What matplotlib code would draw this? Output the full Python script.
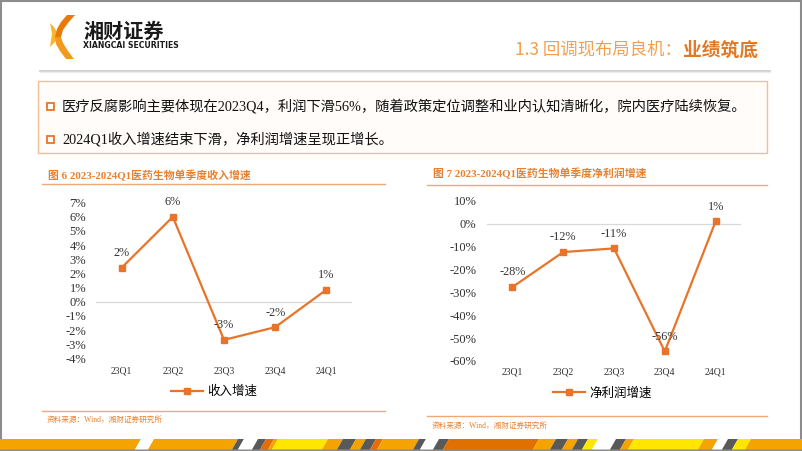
import numpy as np
import matplotlib.pyplot as plt
from matplotlib.patches import Rectangle, Polygon

W, H = 802, 451

# data
quarters = ['23Q1', '23Q2', '23Q3', '23Q4', '24Q1']
revenue_growth = [2.4, 6.0, -2.7, -1.8, 0.85]
revenue_labels = ['2%', '6%', '-3%', '-2%', '1%']
profit_growth = [-27.7, -12.4, -10.8, -55.8, 1.0]
profit_labels = ['-28%', '-12%', '-11%', '-56%', '1%']
revenue_ticks = list(range(-4, 8))
profit_ticks = list(range(-60, 11, 10))

bullets = ['医疗反腐影响主要体现在2023Q4，利润下滑56%，随着政策定位调整和业内认知清晰化，院内医疗陆续恢复。',
           '2024Q1收入增速结束下滑，净利润增速呈现正增长。']

SERIF = ['Liberation Serif', 'Noto Sans CJK SC']
CJK = ['Noto Sans CJK SC', 'DejaVu Sans']
LINE = '#E8742A'
ORANGE = '#E8802F'

fig = plt.figure(figsize=(W / 100, H / 100), dpi=100)
bg = fig.add_axes([0, 0, 1, 1])
bg.set_xlim(0, W)
bg.set_ylim(H, 0)
bg.axis('off')

# frame
bg.add_patch(Rectangle((0.5, 0.5), W - 2, H - 1.5, fill=False, ec='#8C8C8C', lw=1.5))

# logo
bg.add_patch(Polygon([(50, 23), (54, 27), (57, 32), (58, 37), (55, 42), (50, 47), (51, 40), (52, 34), (51, 28)],
                     color='#F8B62D', lw=0))
bg.add_patch(Polygon([(67, 15), (75, 15), (68, 23), (63, 30), (61, 37), (55, 37), (57, 29), (61, 22)],
                     color='#E97A0A', lw=0))
bg.add_patch(Polygon([(55, 37), (61, 37), (63, 43), (68, 51), (74, 59), (66, 59), (60, 51), (56, 44)],
                     color='#F39A1E', lw=0))
bg.text(83, 31, '湘财证券', fontsize=14.5, fontweight='bold', family=CJK, va='center', ha='left', color='#1A1A1A')
bg.text(83, 46, 'XIANGCAI SECURITIES', fontsize=5.6, fontweight='bold', family=['Liberation Sans Narrow', 'DejaVu Sans'],
        va='center', ha='left', color='#1A1A1A')

# header title
t_bold = bg.text(758, 50, '业绩筑底', fontsize=13.5, fontweight='bold', family=CJK, ha='right', va='center', color='#E07A28')
fig.canvas.draw()
bb = t_bold.get_window_extent()
bg.text(bb.x0 - 1, 50, '1.3 回调现布局良机：', fontsize=12.5, family=CJK, ha='right', va='center', color='#F0A050')
bg.plot([40, 770], [70.5, 70.5], color='#C8C8C8', lw=1.2)
bg.plot([40, 770], [72, 72], color='#EDEDED', lw=1)

# bullet box
bg.add_patch(Rectangle((38, 81), 729, 72, fc='#FFFCF9', ec='#F2BE98', lw=1))
for i, txt in enumerate(bullets):
    y = 106 + i * 33
    bg.add_patch(Rectangle((46.5, y - 3.5), 7, 7, fill=False, ec='#E8742A', lw=1.3))
    bg.text(62, y, txt, fontsize=10.3, family=SERIF, va='center', ha='left', color='#111111')

# chart titles and rules
bg.text(48, 176, '图 6 2023-2024Q1医药生物单季度收入增速', fontsize=7.8, fontweight='bold', family=SERIF,
        va='center', color=ORANGE)
bg.plot([42, 385], [183.5, 183.5], color='#F0A878', lw=1)
bg.text(433, 173.5, '图 7 2023-2024Q1医药生物单季度净利润增速', fontsize=7.8, fontweight='bold', family=SERIF,
        va='center', color=ORANGE)
bg.plot([427, 767], [184.5, 184.5], color='#F0A878', lw=1)

bg.plot([42, 385], [410.5, 410.5], color='#F0A878', lw=1)
bg.plot([427, 767], [416, 416], color='#F0A878', lw=1)
bg.text(47, 419.5, '资料来源：Wind，湘财证券研究所', fontsize=5.5, family=SERIF, va='center', color=ORANGE)
bg.text(432, 425.5, '资料来源：Wind，湘财证券研究所', fontsize=5.5, family=SERIF, va='center', color=ORANGE)

# bottom stripe
stripe = [(0, 135, '#F5A300'), (135, 148, 'white'), (148, 232, '#F5A300'), (232, 238, '#595959'),
          (238, 252, 'white'), (252, 260, '#595959'), (260, 268, '#E46C0A'), (268, 272, '#F5A300'),
          (272, 322, '#FFE600'), (322, 337, '#F5A300'), (337, 350, '#595959'), (350, 360, '#F5A300'),
          (360, 370, '#595959'), (370, 377, '#E46C0A'), (377, 413, '#F5A300'), (413, 420, '#595959'),
          (420, 433, 'white'), (433, 443, '#595959'), (443, 533, '#E07000'), (533, 550, '#F5A300'),
          (550, 562, '#595959'), (562, 572, '#F5A300'), (572, 582, '#595959'), (582, 592, '#FFE600'),
          (592, 610, 'white'), (610, 620, '#595959'), (620, 628, '#F5A300'), (628, 698, '#FFE600'),
          (698, 712, '#F5A300'), (712, 722, 'white'), (722, 732, '#595959'), (732, 745, '#FFE600'),
          (745, 810, '#F5A300')]
for x0, x1, c in stripe:
    bg.add_patch(Polygon([(x0, 449.5), (x1, 449.5), (x1 + 6, 439), (x0 + 6, 439)], color=c, lw=0))
bg.add_patch(Polygon([(-6, 449.5), (1, 449.5), (7, 439), (0, 439)], color='#F5A300', lw=0))


def chart(left, right, top, bottom, vals, labels, ticks, ylim, name, leg_xy, ypad, xpad):
    ax = fig.add_axes([left / W, 1 - bottom / H, (right - left) / W, (bottom - top) / H])
    ax.patch.set_alpha(0)
    x = np.arange(len(quarters))
    ax.axhline(0, color='#D9D9D9', lw=0.9, zorder=0)
    ax.plot(x, vals, color=LINE, lw=1.6, marker='s', ms=5, label=name)
    for xi, v, lab in zip(x, vals, labels):
        ax.annotate(lab, (xi, v), xytext=(0, 10.5), textcoords='offset points', ha='center', va='center',
                    fontsize=8.8, family=SERIF, color='#333333')
    ax.set_xlim(-0.5, len(quarters) - 0.5)
    ax.set_ylim(*ylim)
    ax.set_yticks(ticks)
    ax.set_yticklabels([f'{t}%' for t in ticks], fontsize=9, family=SERIF, color='#333333')
    ax.set_xticks(x)
    ax.set_xticklabels(quarters, fontsize=7, family=SERIF, color='#333333')
    ax.tick_params(length=0)
    ax.tick_params(axis='y', pad=ypad)
    ax.tick_params(axis='x', pad=xpad)
    for s in ax.spines.values():
        s.set_visible(False)
    ax.legend(loc='center', bbox_to_anchor=(leg_xy[0] / W, 1 - leg_xy[1] / H), bbox_transform=fig.transFigure,
              frameon=False, handlelength=2.6, handletextpad=0.3, prop={'family': SERIF, 'size': 9})
    return ax


chart(96, 352, 202.7, 358.3, revenue_growth, revenue_labels, revenue_ticks, (-4, 7), '收入增速', (214, 392), 7, 6)
chart(487, 741, 200.8, 361, profit_growth, profit_labels, profit_ticks, (-60, 10), '净利润增速', (602, 393.5), 7.5, 5)

fig.savefig('out.png', dpi=100)
